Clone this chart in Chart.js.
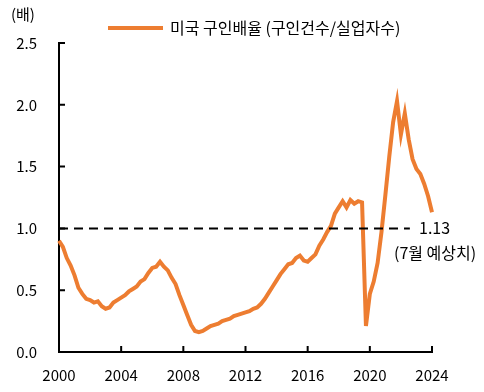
<!DOCTYPE html>
<html>
<head>
<meta charset="utf-8">
<script src="https://cdn.jsdelivr.net/npm/chart.js@4.4.1/dist/chart.umd.min.js"></script>
<style>
  html, body { margin: 0; padding: 0; background: #fff; }
  #wrap { width: 484px; height: 392px; }
</style>
</head>
<body>
<div id="wrap"><canvas id="jobChart" width="484" height="392"></canvas></div>
<script>
// quarterly points, 2000 Q1 .. 2024 Q1
const quarters = [];
for (let y = 2000; y <= 2024; y++) {
    for (let q = 1; q <= 4; q++) {
        if (y === 2024 && q > 1) break;
        quarters.push(y + 'Q' + q);
    }
}

const openingsRatio = [
    0.90, 0.85, 0.76, 0.70, 0.62, 0.52, 0.47, 0.43,   // 2000-01
    0.42, 0.40, 0.41, 0.37, 0.35, 0.36, 0.40, 0.42,   // 2002-03
    0.44, 0.46, 0.49, 0.51, 0.53, 0.57, 0.59, 0.64,   // 2004-05
    0.68, 0.69, 0.73, 0.69, 0.66, 0.60, 0.55, 0.46,   // 2006-07
    0.38, 0.30, 0.22, 0.17, 0.16, 0.17, 0.19, 0.21,   // 2008-09
    0.22, 0.23, 0.25, 0.26, 0.27, 0.29, 0.30, 0.31,   // 2010-11
    0.32, 0.33, 0.35, 0.36, 0.39, 0.43, 0.48, 0.53,   // 2012-13
    0.58, 0.63, 0.67, 0.71, 0.72, 0.76, 0.78, 0.74,   // 2014-15
    0.73, 0.76, 0.79, 0.86, 0.91, 0.97, 1.02, 1.12,   // 2016-17
    1.17, 1.22, 1.17, 1.23, 1.20, 1.22, 1.21, 0.21,   // 2018-19
    0.47, 0.57, 0.72, 0.97, 1.27, 1.58, 1.86, 2.03,   // 2020-21
    1.76, 1.93, 1.72, 1.56, 1.48, 1.44, 1.36, 1.26,   // 2022-23
    1.13                                              // 2024
];

const yearTicks = ['2000', '2004', '2008', '2012', '2016', '2020', '2024'];
const valueTicks = [0, 0.5, 1.0, 1.5, 2.0, 2.5];
const seriesName = '미국 구인배율 (구인건수/실업자수)';
const refLevel = 1.0;
const lastLabel = '1.13';
const noteLabel = '(7월 예상치)';

const FONT = '"Noto Sans CJK KR", "Noto Sans", sans-serif';
const ORANGE = 'rgb(237, 125, 49)';

// inward axis ticks, legend, unit text, reference line and notes
const extrasPlugin = {
    id: 'extras',
    afterDraw(chart) {
        const { ctx, chartArea, scales } = chart;
        const xs = scales.x, ys = scales.y;
        ctx.save();
        ctx.strokeStyle = '#000';
        ctx.lineWidth = 2;
        ctx.beginPath();
        quarters.forEach((q, i) => {
            if (i % 16 === 0) {
                const px = xs.getPixelForValue(i);
                ctx.moveTo(px, chartArea.bottom);
                ctx.lineTo(px, chartArea.bottom - 6);
            }
        });
        valueTicks.forEach(v => {
            const py = ys.getPixelForValue(v);
            ctx.moveTo(chartArea.left, py);
            ctx.lineTo(chartArea.left + 6, py);
        });
        ctx.stroke();

        // dashed reference line
        const y1 = ys.getPixelForValue(refLevel);
        ctx.setLineDash([9, 6]);
        ctx.beginPath();
        ctx.moveTo(chartArea.left, y1);
        ctx.lineTo(xs.getPixelForValue(90.3), y1);
        ctx.stroke();
        ctx.setLineDash([]);

        // legend
        ctx.strokeStyle = ORANGE;
        ctx.lineWidth = 4;
        ctx.beginPath();
        ctx.moveTo(108, 28);
        ctx.lineTo(163, 28);
        ctx.stroke();

        ctx.fillStyle = '#000';
        ctx.textBaseline = 'middle';
        ctx.textAlign = 'left';
        ctx.font = '16px ' + FONT;
        ctx.fillText(seriesName, 170, 28);
        ctx.font = '15px ' + FONT;
        ctx.fillText('(배)', 11, 14);
        ctx.font = '16px ' + FONT;
        ctx.fillText(lastLabel, 419, y1);
        ctx.fillText(noteLabel, 394, y1 + 25);
        ctx.restore();
    }
};

const ctx = document.getElementById('jobChart').getContext('2d');

const jobChart = new Chart(ctx, {
    type: 'line',
    data: {
        labels: quarters,
        datasets: [{
            label: seriesName,
            data: openingsRatio,
            borderColor: ORANGE,
            backgroundColor: ORANGE,
            borderWidth: 4,
            pointRadius: 0,
            tension: 0,
            fill: false
        }]
    },
    options: {
        responsive: false,
        animation: false,
        layout: { padding: { top: 43, right: 52, bottom: 0, left: 0 } },
        plugins: {
            legend: { display: false },
            tooltip: { enabled: false }
        },
        scales: {
            x: {
                type: 'category',
                offset: false,
                grid: { display: false },
                border: { display: true, color: '#000', width: 2 },
                ticks: {
                    autoSkip: false,
                    maxRotation: 0,
                    color: '#000',
                    font: { family: FONT, size: 15 },
                    padding: 6,
                    callback: (v, i) => i % 16 === 0 ? yearTicks[i / 16] : null
                },
                afterFit: s => { s.height = 40; }
            },
            y: {
                min: 0,
                max: 2.5,
                grid: { display: false },
                border: { display: true, color: '#000', width: 2 },
                ticks: {
                    stepSize: 0.5,
                    color: '#000',
                    font: { family: FONT, size: 15 },
                    padding: 14,
                    callback: v => v.toFixed(1)
                },
                afterFit: s => { s.width = 59; }
            }
        }
    },
    plugins: [extrasPlugin]
});
</script>
</body>
</html>
